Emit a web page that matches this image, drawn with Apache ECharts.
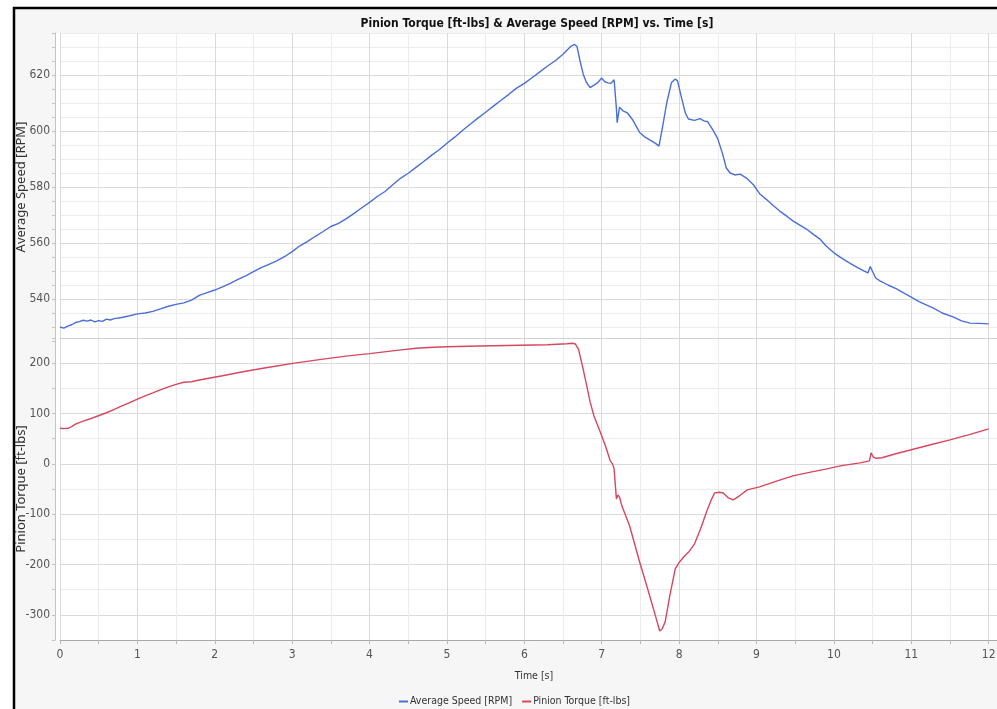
<!DOCTYPE html>
<html>
<head>
<meta charset="utf-8">
<title>Pinion Torque & Average Speed vs. Time</title>
<script src="https://cdn.jsdelivr.net/npm/echarts@6/dist/echarts.min.js"></script>
<style>
  html, body { margin: 0; padding: 0; background: #ffffff; }
  #chart { width: 997px; height: 709px; }
</style>
</head>
<body>
<div id="chart"></div>
<script>
// Average speed trace [s, RPM]
const speedTime = [
  0.00, 0.05, 0.10, 0.15, 0.20, 0.25, 0.30, 0.35, 0.40, 0.45, 0.50, 0.55, 0.60, 0.65, 0.70, 0.80, 0.90,
  1.00, 1.10, 1.20, 1.30, 1.40, 1.50, 1.60, 1.70, 1.80, 1.90, 2.00, 2.10, 2.20, 2.30, 2.40, 2.50,
  2.60, 2.70, 2.80, 2.90, 3.00, 3.10, 3.20, 3.30, 3.40, 3.50, 3.60, 3.70, 3.80, 3.90, 4.00, 4.10,
  4.20, 4.30, 4.40, 4.50, 4.60, 4.70, 4.80, 4.90, 5.00, 5.10, 5.20, 5.30, 5.40, 5.50, 5.60, 5.70,
  5.80, 5.90, 6.00, 6.10, 6.20, 6.30, 6.40, 6.50, 6.55, 6.60, 6.65, 6.68, 6.72, 6.76, 6.80, 6.85,
  6.90, 6.95, 7.00, 7.04, 7.08, 7.12, 7.16, 7.19, 7.20, 7.23, 7.27, 7.33, 7.40, 7.49, 7.55, 7.62,
  7.70, 7.74, 7.78, 7.84, 7.90, 7.95, 7.98, 8.03, 8.08, 8.12, 8.20, 8.27, 8.32, 8.37, 8.44, 8.50,
  8.56, 8.61, 8.66, 8.72, 8.79, 8.87, 8.96, 9.04, 9.13, 9.22, 9.30, 9.40, 9.47, 9.56, 9.65, 9.74,
  9.82, 9.90, 10.00, 10.10, 10.20, 10.30, 10.40, 10.44, 10.47, 10.50, 10.54, 10.60, 10.70, 10.81,
  10.90, 11.00, 11.10, 11.20, 11.28, 11.40, 11.54, 11.65, 11.76, 11.88, 12.00
];
const speedRpm = [
  530.0, 529.6, 530.3, 530.8, 531.6, 531.9, 532.4, 532.1, 532.5, 531.8, 532.3, 532.0, 532.8, 532.5, 533.0, 533.4, 534.0,
  534.7, 535.0, 535.6, 536.5, 537.4, 538.1, 538.6, 539.6, 541.3, 542.3, 543.2, 544.3, 545.6, 547.0, 548.3, 549.8,
  551.2, 552.4, 553.6, 555.1, 556.9, 559.0, 560.6, 562.4, 564.1, 565.9, 567.0, 568.7, 570.6, 572.6, 574.5, 576.6,
  578.4, 580.8, 583.1, 584.9, 587.0, 589.1, 591.3, 593.3, 595.6, 597.8, 600.2, 602.4, 604.6, 606.7, 608.9, 611.0,
  613.1, 615.3, 617.0, 619.0, 621.1, 623.2, 625.1, 627.4, 628.8, 630.2, 630.9, 630.2, 625.0, 620.4, 617.5, 615.5,
  616.4, 617.3, 618.9, 617.6, 617.2, 617.0, 618.3, 608.0, 603.0, 608.5, 607.3, 606.5, 604.0, 599.5, 598.0, 596.8,
  595.5, 594.6, 600.5, 610.0, 617.2, 618.6, 617.9, 612.0, 606.5, 604.3, 603.8, 604.4, 603.6, 603.3, 600.2, 597.2,
  592.0, 586.8, 585.0, 584.3, 584.6, 583.2, 580.8, 577.6, 575.5, 573.3, 571.4, 569.4, 567.9, 566.4, 564.9, 563.0,
  561.4, 558.9, 556.5, 554.6, 552.9, 551.3, 549.9, 549.3, 551.6, 549.8, 547.5, 546.4, 545.0, 543.6,
  542.2, 540.7, 539.1, 537.8, 536.8, 535.0, 533.6, 532.2, 531.4, 531.3, 531.1
];

// Pinion torque trace [s, ft-lbs]
const torqueTime = [
  0.00, 0.05, 0.11, 0.15, 0.20, 0.30, 0.40, 0.47, 0.60, 0.71, 0.80, 0.90, 1.00, 1.10, 1.20, 1.27,
  1.40, 1.50, 1.60, 1.70, 1.80, 1.94, 2.10, 2.38, 2.70, 3.05, 3.40, 3.72, 4.00, 4.38, 4.60, 4.83,
  5.00, 5.27, 5.60, 5.94, 6.30, 6.55, 6.62, 6.66, 6.70, 6.75, 6.80, 6.85, 6.90, 6.98, 7.05, 7.11,
  7.14, 7.16, 7.19, 7.21, 7.23, 7.26, 7.36, 7.49, 7.62, 7.70, 7.75, 7.78, 7.82, 7.88, 7.95, 8.00,
  8.07, 8.13, 8.20, 8.28, 8.36, 8.42, 8.46, 8.52, 8.57, 8.63, 8.70, 8.78, 8.88, 9.04, 9.25, 9.47,
  9.70, 9.91, 10.10, 10.34, 10.46, 10.48, 10.51, 10.55, 10.62, 10.80, 11.00, 11.25, 11.50, 11.75, 12.00
];
const torqueFtLbs = [
  70.7, 70.0, 70.7, 74.0, 78.7, 85.0, 90.0, 94.0, 101.5, 108.7, 115.0, 121.5, 128.7, 135.0, 141.0, 145.3,
  153.0, 158.0, 162.0, 163.0, 166.5, 170.5, 175.0, 183.5, 192.0, 200.5, 208.0, 214.5, 219.0, 226.0, 229.5, 231.5,
  232.5, 233.5, 234.5, 235.5, 236.5, 238.5, 239.5, 238.0, 228.0, 195.0, 160.0, 123.0, 95.0, 63.6, 35.0, 6.0,
  0.0, -10.0, -69.6, -62.0, -66.0, -83.5, -123.0, -195.0, -262.0, -305.0, -332.0, -328.0, -314.0, -262.0, -208.7, -196.0,
  -183.0, -174.0, -159.0, -128.0, -93.4, -70.0, -57.7, -56.5, -58.0, -67.0, -71.6, -63.5, -51.7, -45.7, -35.0, -23.9,
  -16.5, -9.9, -3.5, 2.0, 6.0, 22.0, 13.0, 11.0, 12.0, 20.0, 28.0, 38.0, 47.7, 58.0, 69.6
];

// Labelled tick values on each axis
const speedTicks = [540, 560, 580, 600, 620];
const torqueTicks = [-300, -200, -100, 0, 100, 200];
const timeTicks = [0, 1, 2, 3, 4, 5, 6, 7, 8, 9, 10, 11, 12];

const NARROW = '"Liberation Sans Narrow", "DejaVu Sans Condensed", "Roboto", sans-serif';
const MAJOR = '#dadada';
const MINOR = '#ececec';

const chart = echarts.init(document.getElementById('chart'), null, { renderer: 'canvas' });

const timeAxisBase = {
  type: 'value',
  min: 0,
  max: 12.25,
  interval: 0.5,
  splitLine: { show: true, lineStyle: { color: [MAJOR, MINOR], width: 1 } }
};

const tickLabelStyle = {
  fontFamily: NARROW,
  fontSize: 12,
  color: '#555555'
};

chart.setOption({
  backgroundColor: '#ffffff',
  animation: false,
  graphic: [
    {
      // outer frame of the chart panel
      type: 'rect',
      z: -10,
      shape: { x: 14, y: 8, width: 1000, height: 720 },
      style: { fill: '#f6f6f6', stroke: '#000000', lineWidth: 2.5 }
    },
    {
      // white plotting area shared by both panels
      type: 'rect',
      z: -9,
      shape: { x: 55, y: 33, width: 1000, height: 607 },
      style: { fill: '#ffffff' }
    }
  ],
  title: {
    text: 'Pinion Torque [ft-lbs] & Average Speed [RPM] vs. Time [s]',
    left: 532,
    top: 13,
    textAlign: 'center',
    textStyle: { fontFamily: NARROW, fontSize: 12, fontWeight: 'bold', color: '#111111' }
  },
  legend: {
    left: 394,
    top: 691,
    itemGap: 10,
    itemWidth: 9,
    itemHeight: 2,
    icon: 'rect',
    textStyle: { fontFamily: NARROW, fontSize: 10.5, color: '#333333', padding: [0, 0, 0, -3] },
    data: ['Average Speed [RPM]', 'Pinion Torque [ft-lbs]']
  },
  grid: [
    { left: 60, right: -11, top: 33, height: 308, outerBoundsMode: 'none', containLabel: false, show: false },
    { left: 60, right: -11, top: 338, height: 302, outerBoundsMode: 'none', containLabel: false, show: false }
  ],
  xAxis: [
    Object.assign({}, timeAxisBase, {
      gridIndex: 0,
      axisLine: { show: false },
      axisTick: { show: false },
      axisLabel: { show: false }
    }),
    Object.assign({}, timeAxisBase, {
      gridIndex: 1,
      name: 'Time [s]',
      nameLocation: 'middle',
      nameGap: 31,
      nameMoveOverlap: false,
      nameTextStyle: { fontFamily: NARROW, fontSize: 10.5, color: '#333333' },
      axisLine: { show: true, onZero: false, lineStyle: { color: '#a8a8a8', width: 1 } },
      axisTick: { show: true, length: 4, lineStyle: { color: '#b8b8b8' } },
      axisLabel: Object.assign({ margin: 9 }, tickLabelStyle, {
        formatter: v => (timeTicks.indexOf(v) >= 0 ? String(v) : '')
      })
    }),
    {
      // divider between the speed panel and the torque panel
      gridIndex: 1,
      type: 'value',
      position: 'top',
      min: 0,
      max: 12.25,
      axisLine: { show: true, onZero: false, lineStyle: { color: '#d2d2d2', width: 1 } },
      axisTick: { show: false },
      axisLabel: { show: false },
      splitLine: { show: false }
    }
  ],
  yAxis: [
    {
      gridIndex: 0,
      type: 'value',
      min: 525,
      max: 635,
      interval: 5,
      offset: 5,
      name: 'Average Speed [RPM]',
      nameLocation: 'middle',
      nameRotate: 90,
      nameGap: 27,
      nameMoveOverlap: false,
      nameTextStyle: { fontFamily: '"Noto Sans", sans-serif', fontSize: 13, color: '#333333' },
      axisLine: { show: true, onZero: false, lineStyle: { color: '#c4c4c4', width: 1 } },
      axisTick: { show: true, length: 3, lineStyle: { color: '#c4c4c4' } },
      axisLabel: Object.assign({ margin: 5 }, tickLabelStyle, {
        formatter: v => (speedTicks.indexOf(v) >= 0 ? String(v) : '')
      }),
      splitLine: { show: true, showMinLine: false, lineStyle: { color: [MINOR, MINOR, MAJOR, MINOR], width: 1 } }
    },
    {
      gridIndex: 1,
      type: 'value',
      min: -350,
      max: 250,
      interval: 50,
      offset: 5,
      name: 'Pinion Torque [ft-lbs]',
      nameLocation: 'middle',
      nameRotate: 90,
      nameGap: 27,
      nameMoveOverlap: false,
      nameTextStyle: { fontFamily: '"Noto Sans", sans-serif', fontSize: 13, color: '#333333' },
      axisLine: { show: true, onZero: false, lineStyle: { color: '#c4c4c4', width: 1 } },
      axisTick: { show: true, length: 3, lineStyle: { color: '#c4c4c4' } },
      axisLabel: Object.assign({ margin: 5 }, tickLabelStyle, {
        formatter: v => (torqueTicks.indexOf(v) >= 0 ? String(v) : '')
      }),
      splitLine: { show: true, lineStyle: { color: [MINOR, MAJOR], width: 1 } }
    }
  ],
  series: [
    {
      name: 'Average Speed [RPM]',
      type: 'line',
      xAxisIndex: 0,
      yAxisIndex: 0,
      showSymbol: false,
      symbol: 'none',
      lineStyle: { color: '#4a6fd6', width: 1.4 },
      itemStyle: { color: '#4a6fd6' },
      data: speedTime.map((t, i) => [t, speedRpm[i]])
    },
    {
      name: 'Pinion Torque [ft-lbs]',
      type: 'line',
      xAxisIndex: 1,
      yAxisIndex: 1,
      showSymbol: false,
      symbol: 'none',
      lineStyle: { color: '#d7475f', width: 1.4 },
      itemStyle: { color: '#d7475f' },
      data: torqueTime.map((t, i) => [t, torqueFtLbs[i]])
    }
  ]
});
</script>
</body>
</html>
